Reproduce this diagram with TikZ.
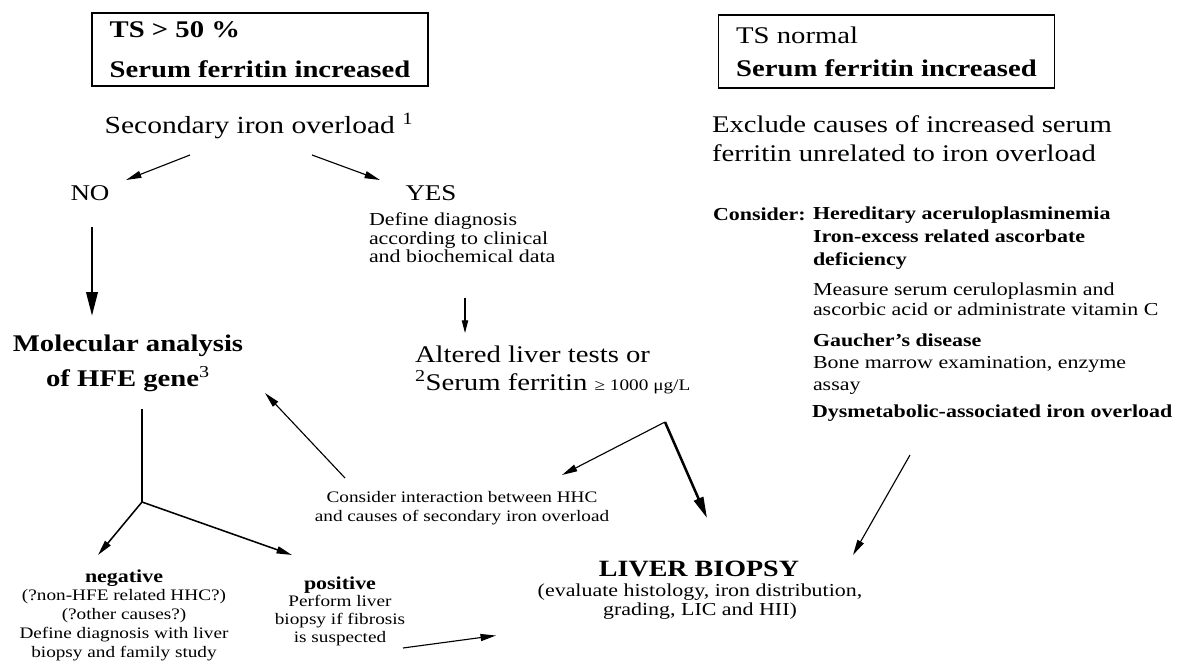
\documentclass[tikz,border=0pt]{standalone}
\usepackage{fontspec}
\setmainfont{Liberation Serif}[FakeStretch=1.2]
\usetikzlibrary{arrows.meta, positioning, calc}

\begin{document}
\begin{tikzpicture}[
    x=0.025cm, y=-0.025cm,
    >={Triangle[length=11pt,width=5pt]},
    every node/.style={inner sep=0pt, outer sep=0pt},
    big/.style={font=\fontsize{17}{#1}\selectfont},
    big/.default=20.6,
    bigbold/.style={font=\fontsize{17}{#1}\selectfont\bfseries},
    bigbold/.default=20.6,
    mid/.style={font=\fontsize{13}{#1}\selectfont},
    mid/.default=15.5,
    midbold/.style={font=\fontsize{13}{#1}\selectfont\bfseries},
    midbold/.default=15.5,
    small/.style={font=\fontsize{11.4}{#1}\selectfont},
    small/.default=13.3,
    tsbox/.style={draw, line width=1pt, align=left, minimum width=8.4cm, minimum height=1.825cm},
    arrow/.style={->, line width=0.8pt},
    heavy/.style={-{Triangle[length=17pt,width=8pt]}, line width=2pt}
  ]
    \useasboundingbox (0,0) rectangle (1184,669);
    \node[tsbox, bigbold=28.5] (tshigh) at (260,49.5)
    {TS > 50 \%\\Serum ferritin increased};
    \node[tsbox, big=23.5] (tsnorm) at (886.5,51.5)
    {TS normal\\\textbf{Serum ferritin increased}};
    \node[font=\fontsize{17.5}{21}\selectfont] (sec) at (259,126)
    {Secondary iron overload \textsuperscript{1}};
    \node[font=\fontsize{16}{19}\selectfont] (no) at (90,193) {NO};
    \node[font=\fontsize{16}{19}\selectfont] (yes) at (431,193) {YES};
    \node[mid=13.2, align=left, anchor=west] (define) at (369,238)
    {Define diagnosis\\according to clinical\\and biochemical data};
    \node[big=19.9, align=left, anchor=west] (altered) at (415,370)
    {Altered liver tests or\\\textsuperscript{2}Serum ferritin {\fontsize{11.4}{13}\selectfont ≥ 1000 μg/L}};
    \node[bigbold=24.9, align=center] (hfe) at (128,363)
    {Molecular analysis\\of HFE gene\textsuperscript{\mdseries 3}};
    \node[small, align=center] (neg) at (124,615)
    {{\fontsize{13}{13}\selectfont\bfseries negative}\\(?non-HFE related HHC?)\\(?other causes?)\\Define diagnosis with liver\\biopsy and family study};
    \node[small=12.5, align=center] (pos) at (340,611)
    {{\fontsize{13}{13}\selectfont\bfseries positive}\\Perform liver\\biopsy if fibrosis\\is suspected};
    \node[small=13.5, align=center] (inter) at (462,508)
    {Consider interaction between HHC\\and causes of secondary iron overload};
    \node[font=\fontsize{16.6}{20}\selectfont\bfseries] (liver) at (699,569) {LIVER BIOPSY};
    \node[mid=13.5, align=center] (liverinfo) at (700,601.5)
    {(evaluate histology, iron distribution,\\grading, LIC and HII)};
    \node[big=20.6, align=left, anchor=west] (exclude) at (712,139)
    {Exclude causes of increased serum\\ferritin unrelated to iron overload};
    \node[midbold, anchor=west] (consider) at (713,214) {Consider:};
    \node[midbold=16.4, align=left, anchor=west] (hered) at (813,238)
    {Hereditary aceruloplasminemia\\Iron-excess related ascorbate\\deficiency};
    \node[mid=14.5, align=left, anchor=west] (measure) at (813,299)
    {Measure serum ceruloplasmin and\\ascorbic acid or administrate vitamin C};
    \node[mid=15.8, align=left, anchor=west] (gaucher) at (813,364)
    {\textbf{Gaucher's disease}\\Bone marrow examination, enzyme\\assay};
    \node[midbold, anchor=west] (dysmet) at (812,413)
    {Dysmetabolic-associated iron overload};
    \draw[arrow] ($(sec)+(-69,29)$) -- ($(no)+(36,-13)$);
    \draw[arrow] ($(sec)+(53,29)$) -- ($(yes)+(-51,-13)$);
    \draw[heavy] ($(no)+(2,34)$) -- ($(hfe)+(-36,-47)$);
    \coordinate (split) at ($(hfe)+(14,139)$);
    \draw[line width=1.4pt] ($(hfe)+(14,46)$) -- (split);
    \draw[arrow, line width=1.1pt] (split) -- ($(neg)+(-26,-60)$);
    \draw[arrow, line width=1.1pt] (split) -- ($(pos)+(-48,-56)$);
    \draw[arrow, >={Triangle[length=9pt,width=4.5pt]}] ($(define.west)+(96,60)$) -- ($(altered.west)+(50,-37)$);
    \coordinate (fork) at ($(altered.west)+(250,52)$);
    \draw[arrow] (fork) -- ($(inter)+(100,-33)$);
    \draw[heavy, line width=1.8pt, -{Triangle[length=15pt,width=7pt]}] (fork) -- ($(liver)+(8,-51)$);
    \draw[arrow] ($(inter)+(-117,-30)$) -- ($(hfe)+(137,30)$);
    \draw[arrow] ($(pos)+(63,37)$) -- ($(liverinfo)+(-204,34)$);
    \draw[arrow] ($(dysmet.west)+(98,42)$) -- ($(liver)+(154,-14)$);
\end{tikzpicture}
\end{document}
